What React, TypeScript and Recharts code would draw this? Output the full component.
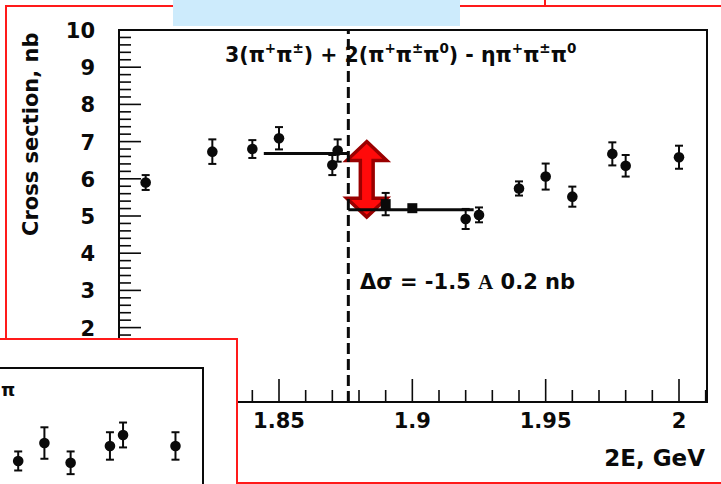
import React from 'react'
import {
  ScatterChart,
  Scatter,
  XAxis,
  YAxis,
  ErrorBar,
  ReferenceLine,
  ReferenceArea,
} from 'recharts'

// 2E, GeV  vs  cross section, nb
const energy = [1.8, 1.825, 1.84, 1.85, 1.87, 1.872, 1.92, 1.925, 1.94, 1.95, 1.96, 1.975, 1.98, 2.0]
const sigma = [5.9, 6.73, 6.8, 7.09, 6.37, 6.76, 4.92, 5.03, 5.74, 6.06, 5.52, 6.67, 6.35, 6.58]
const sigmaErr = [0.2, 0.33, 0.24, 0.3, 0.27, 0.3, 0.27, 0.2, 0.19, 0.35, 0.27, 0.31, 0.29, 0.31]

// square markers just above threshold
const sqEnergy = [1.89, 1.9]
const sqSigma = [5.32, 5.21]
const sqErr = [0.3, 0.08]

// flat fits below / above threshold
const threshold = 1.876
const fitFrom = [1.8443, 1.876]
const fitTo = [1.876, 1.923]
const fitLevel = [6.68, 5.17]

// double arrow showing the step
const arrowX = [1.8754, 1.8904]
const arrowY = [4.97, 7.0]

// lower-left panel (same energy axis)
const insetEnergy = [1.94, 1.95, 1.96, 1.975, 1.98, 2.0]
const insetSigma = [7.46, 7.95, 7.41, 7.87, 8.17, 7.87]
const insetErr = [0.26, 0.43, 0.31, 0.375, 0.34, 0.375]

const xDomain: [number, number] = [1.79, 2.0105]
const yDomain: [number, number] = [0, 10]
const xMajor = [1.8, 1.85, 1.9, 1.95, 2]
const xTicks = Array.from({ length: 23 }, (_, i) => +(1.79 + i * 0.01).toFixed(2))
const yTicks = Array.from({ length: 51 }, (_, i) => +(i * 0.2).toFixed(1))

const titleParts = ['3(π', '^+', 'π', '^±', ') + 2(π', '^+', 'π', '^±', 'π', '^0', ') - ηπ', '^+', 'π', '^±', 'π', '^0']

const FONT = "'DejaVu Sans', 'Liberation Sans', Arial, sans-serif"
const INK = '#0a0a0a'

const toPoints = (xs: number[], ys: number[], es: number[]) =>
  xs.map((x, i) => ({ x, y: ys[i], err: es[i] }))

const mainPts = toPoints(energy, sigma, sigmaErr)
const squarePts = toPoints(sqEnergy, sqSigma, sqErr)
const insetPts = toPoints(insetEnergy, insetSigma, insetErr)

// ticks point into the frame, labels sit outside
const XTick = (props: any) => {
  const { x, y, payload } = props
  const v = payload.value
  const major = xMajor.some((m) => Math.abs(m - v) < 1e-6)
  return (
    <g>
      <line x1={x} x2={x} y1={y} y2={y - (major ? 23 : 12)} stroke={INK} strokeWidth={1.6} />
      {major && (
        <text x={x} y={y + 26} textAnchor="middle" fontFamily={FONT} fontWeight="bold" fontSize={21} fill={INK}>
          {String(v)}
        </text>
      )}
    </g>
  )
}

const YTick = (props: any) => {
  const { x, y, payload } = props
  const v = payload.value
  const major = Math.abs(v - Math.round(v)) < 1e-6
  return (
    <g>
      <line x1={x} x2={x + (major ? 22 : 12)} y1={y} y2={y} stroke={INK} strokeWidth={1.6} />
      {major && (
        <text x={x - 24} y={y + 8} textAnchor="end" fontFamily={FONT} fontWeight="bold" fontSize={21} fill={INK}>
          {String(v)}
        </text>
      )}
    </g>
  )
}

const Dot = (props: any) => <circle cx={props.cx} cy={props.cy} r={5.3} fill={INK} />
const Square = (props: any) => <rect x={props.cx - 5} y={props.cy - 5} width={10} height={10} fill={INK} />

const DoubleArrow = (props: any) => {
  const { x, y, width, height } = props
  const cx = x + width / 2
  const hh = width / 2
  const sh = hh * 0.32
  const hl = height * 0.25
  const b = y + height
  const pts = [
    [cx, y], [cx + hh, y + hl], [cx + sh, y + hl], [cx + sh, b - hl], [cx + hh, b - hl],
    [cx, b], [cx - hh, b - hl], [cx - sh, b - hl], [cx - sh, y + hl], [cx - hh, y + hl],
  ]
  return (
    <polygon
      points={pts.map((p) => p.join(',')).join(' ')}
      fill="#ff0a0a"
      stroke="#9a0000"
      strokeWidth={3.5}
      strokeLinejoin="miter"
    />
  )
}

const Title = () => {
  let sup = false
  return (
    <text x={225} y={62} fontSize={20.5} fill={INK}>
      {titleParts.map((p, i) => {
        const isSup = p.startsWith('^')
        const dy = isSup && !sup ? -9 : !isSup && sup ? 9 : 0
        sup = isSup
        return (
          <tspan key={i} dy={dy} fontSize={isSup ? 13.5 : 20.5}>
            {isSup ? p.slice(1) : p}
          </tspan>
        )
      })}
    </text>
  )
}

export default function App() {
  return (
    <div
      style={{
        position: 'absolute',
        left: 0,
        top: 0,
        width: 721,
        height: 484,
        overflow: 'hidden',
        background: '#fff',
      }}
    >
      <div style={{ position: 'absolute', left: 0, top: 0 }}>
        <ScatterChart width={721} height={484} margin={{ top: 30, right: 14, bottom: 81, left: 118 }}>
          <XAxis
            dataKey="x"
            type="number"
            domain={xDomain}
            allowDataOverflow
            ticks={xTicks}
            interval={0}
            height={1}
            tickSize={0}
            tickMargin={0}
            tickLine={false}
            tick={<XTick />}
            axisLine={{ stroke: INK, strokeWidth: 2 }}
          />
          <YAxis
            dataKey="y"
            type="number"
            domain={yDomain}
            allowDataOverflow
            ticks={yTicks}
            interval={0}
            width={1}
            tickSize={0}
            tickMargin={0}
            tickLine={false}
            tick={<YTick />}
            axisLine={{ stroke: INK, strokeWidth: 2 }}
          />
          <ReferenceArea x1={xDomain[0]} x2={xDomain[1]} y1={yDomain[0]} y2={yDomain[1]} fill="none" stroke={INK} strokeWidth={2} fillOpacity={0} />
          <ReferenceLine x={threshold} stroke={INK} strokeWidth={3} strokeDasharray="11 5" />
          {fitLevel.map((lvl, i) => (
            <ReferenceLine
              key={i}
              segment={[{ x: fitFrom[i], y: lvl }, { x: fitTo[i], y: lvl }]}
              stroke={INK}
              strokeWidth={3}
            />
          ))}
          <Scatter data={mainPts} shape={<Dot />} isAnimationActive={false}>
            <ErrorBar dataKey="err" direction="y" width={4} stroke={INK} strokeWidth={2} />
          </Scatter>
          <Scatter data={squarePts} shape={<Square />} isAnimationActive={false}>
            <ErrorBar dataKey="err" direction="y" width={4} stroke={INK} strokeWidth={2} />
          </Scatter>
          <ReferenceArea
            x1={arrowX[0]}
            x2={arrowX[1]}
            y1={arrowY[0]}
            y2={arrowY[1]}
            shape={<DoubleArrow />}
          />
        </ScatterChart>
      </div>

      <svg
        width={721}
        height={484}
        style={{ position: 'absolute', left: 0, top: 0 }}
        fontFamily={FONT}
        fontWeight="bold"
      >
        <Title />
        <text x={360} y={289} fontSize={21} fill={INK}>
          Δσ = -1.5 <tspan fontFamily="'Liberation Serif', serif">A</tspan> 0.2 nb
        </text>
        <text transform="translate(38,236) rotate(-90)" fontSize={21} fill={INK}>
          Cross section, nb
        </text>
        <text x={705} y={466} textAnchor="end" fontSize={23} fill={INK}>
          2E, GeV
        </text>
      </svg>

      {/* frames of neighbouring panels */}
      <div
        style={{
          position: 'absolute',
          left: 5,
          top: 5,
          width: 800,
          height: 479,
          border: '2px solid #ff1a1a',
          boxSizing: 'border-box',
        }}
      />
      <div
        style={{
          position: 'absolute',
          left: 544,
          top: -60,
          width: 300,
          height: 67,
          border: '2px solid #ff1a1a',
          boxSizing: 'border-box',
        }}
      />
      <div style={{ position: 'absolute', left: 173, top: 0, width: 287, height: 26, background: '#cdebfc' }} />

      <div
        style={{
          position: 'absolute',
          left: -10,
          top: 338,
          width: 248,
          height: 200,
          border: '2px solid #ff1a1a',
          boxSizing: 'border-box',
          background: '#fff',
        }}
      />
      <div style={{ position: 'absolute', left: -377, top: 366 }}>
        <ScatterChart width={582} height={370} margin={{ top: 2, right: 2, bottom: 2, left: 2 }}>
          <XAxis dataKey="x" type="number" domain={xDomain} allowDataOverflow hide />
          <YAxis dataKey="y" type="number" domain={yDomain} allowDataOverflow hide />
          <ReferenceArea x1={xDomain[0]} x2={xDomain[1]} y1={yDomain[0]} y2={yDomain[1]} fill="none" stroke={INK} strokeWidth={2} fillOpacity={0} />
          <Scatter data={insetPts} shape={<Dot />} isAnimationActive={false}>
            <ErrorBar dataKey="err" direction="y" width={4} stroke={INK} strokeWidth={2} />
          </Scatter>
        </ScatterChart>
      </div>
      <svg width={40} height={40} style={{ position: 'absolute', left: 0, top: 370 }}>
        <text x={1} y={26} fontFamily={FONT} fontWeight="bold" fontSize={18} fill={INK}>
          π
        </text>
      </svg>
    </div>
  )
}
